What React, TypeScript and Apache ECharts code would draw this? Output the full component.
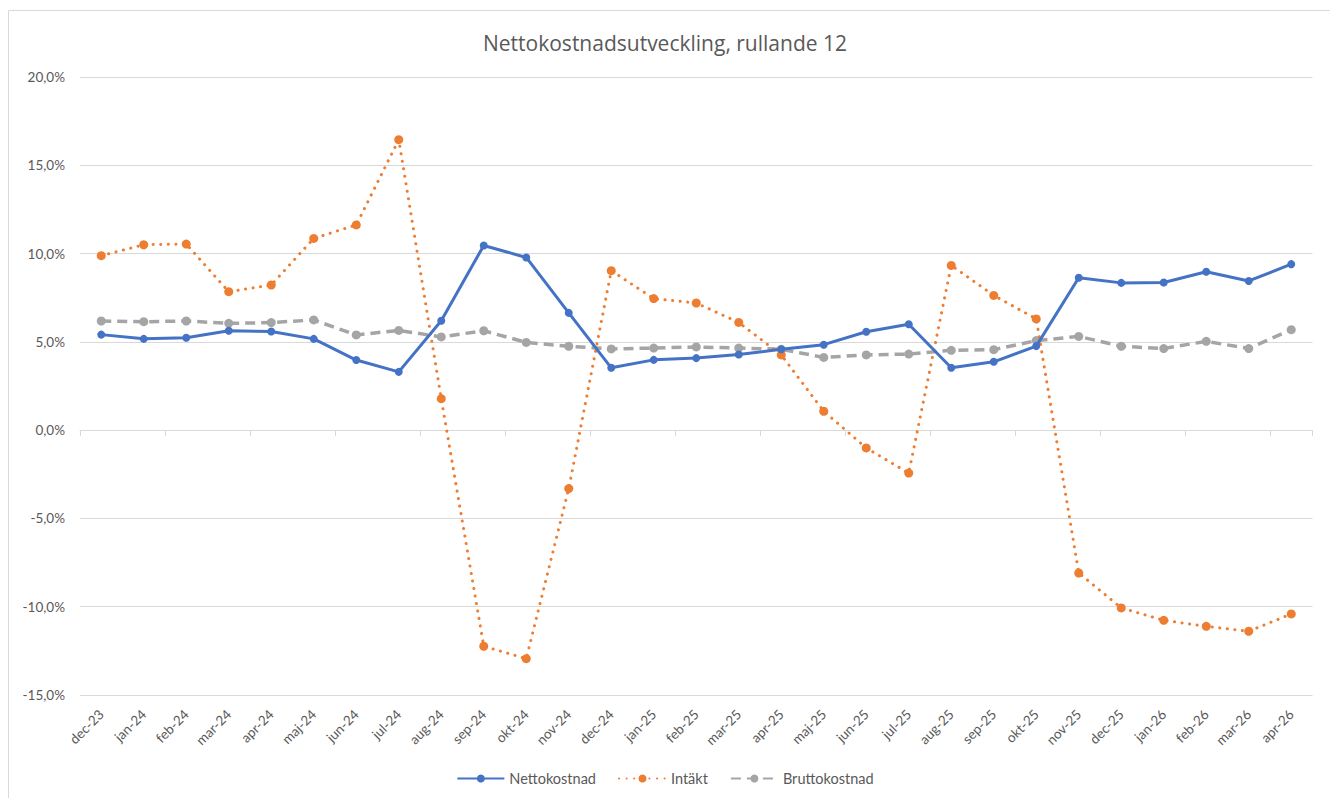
import React, { useEffect, useRef } from "react";
import * as echarts from "echarts";

const categories = [
  "dec-23", "jan-24", "feb-24", "mar-24", "apr-24", "maj-24", "jun-24", "jul-24",
  "aug-24", "sep-24", "okt-24", "nov-24", "dec-24", "jan-25", "feb-25", "mar-25",
  "apr-25", "maj-25", "jun-25", "jul-25", "aug-25", "sep-25", "okt-25", "nov-25",
  "dec-25", "jan-26", "feb-26", "mar-26", "apr-26",
];

const nettokostnad = [
  5.41, 5.17, 5.23, 5.63, 5.59, 5.17, 3.97, 3.3,
  6.2, 10.46, 9.78, 6.64, 3.53, 3.98, 4.08, 4.28,
  4.58, 4.84, 5.57, 6.0, 3.53, 3.87, 4.76, 8.63,
  8.34, 8.36, 8.97, 8.45, 9.4,
];

const intakt = [
  9.88, 10.5, 10.54, 7.84, 8.22, 10.86, 11.62, 16.45,
  1.78, -12.24, -12.94, -3.31, 9.03, 7.45, 7.2, 6.1,
  4.26, 1.07, -1.01, -2.43, 9.33, 7.63, 6.3, -8.09,
  -10.07, -10.77, -11.11, -11.39, -10.41,
];

const bruttokostnad = [
  6.18, 6.14, 6.18, 6.05, 6.09, 6.24, 5.39, 5.65,
  5.28, 5.63, 4.97, 4.75, 4.6, 4.65, 4.71, 4.65,
  4.58, 4.12, 4.26, 4.31, 4.52, 4.56, 5.07, 5.31,
  4.75, 4.62, 5.03, 4.62, 5.69,
];

const seriesNames = ["Nettokostnad", "Intäkt", "Bruttokostnad"];
const yTicks = { min: -15, max: 20, interval: 5 };

const FONT = "Lato, 'Open Sans', sans-serif";
const TITLE_FONT = "'Open Sans', Lato, sans-serif";
const TEXT = "#595959";
const GRID = "#d9d9d9";

export default function App() {
  const ref = useRef<HTMLDivElement>(null);

  useEffect(() => {
    if (!ref.current) return;
    const chart = echarts.init(ref.current, undefined, { renderer: "svg" });
    chart.setOption({
      animation: false,
      backgroundColor: "#ffffff",
      textStyle: { fontFamily: FONT },
      title: {
        text: "Nettokostnadsutveckling, rullande 12",
        left: "center",
        top: 27,
        textStyle: { fontFamily: TITLE_FONT, fontSize: 21, fontWeight: "normal", color: TEXT },
      },
      graphic: [
        {
          type: "rect",
          shape: { x: 8.5, y: 10.5, width: 1400, height: 900 },
          style: { fill: "none", stroke: GRID, lineWidth: 1 },
          silent: true,
        },
      ],
      legend: {
        bottom: 7,
        left: "center",
        itemWidth: 47,
        itemHeight: 10,
        itemGap: 22,
        data: seriesNames,
        textStyle: { fontFamily: FONT, fontSize: 14.5, color: TEXT },
      },
      grid: { left: 80, right: 17.5, top: 77, bottom: 103, containLabel: false },
      xAxis: [
        {
          type: "category",
          data: categories,
          position: "bottom",
          axisLine: { show: false, onZero: false },
          axisTick: { show: false },
          axisLabel: {
            rotate: 45,
            color: TEXT,
            fontSize: 13.5,
            fontFamily: FONT,
            margin: 17,
            interval: 0,
          },
          splitLine: { show: false },
        },
        {
          type: "category",
          data: categories,
          position: "bottom",
          axisLine: { show: true, onZero: true, onZeroAxisIndex: 0, lineStyle: { color: GRID, width: 1 } },
          axisTick: { show: true, length: 6, lineStyle: { color: GRID } },
          axisLabel: { show: false },
          splitLine: { show: false },
        },
      ],
      yAxis: {
        type: "value",
        min: yTicks.min,
        max: yTicks.max,
        interval: yTicks.interval,
        axisLine: { show: false },
        axisTick: { show: false },
        axisLabel: {
          color: TEXT,
          fontSize: 13.5,
          fontFamily: FONT,
          margin: 15,
          formatter: (v: number) => v.toFixed(1).replace(".", ",") + "%",
        },
        splitLine: { lineStyle: { color: GRID, width: 1 } },
      },
      series: [
        {
          name: seriesNames[0],
          type: "line",
          xAxisIndex: 0,
          data: nettokostnad,
          symbol: "circle",
          symbolSize: 8,
          itemStyle: { color: "#4472C4" },
          lineStyle: { color: "#4472C4", width: 3 },
          z: 4,
        },
        {
          name: seriesNames[1],
          type: "line",
          xAxisIndex: 0,
          data: intakt,
          symbol: "circle",
          symbolSize: 9,
          itemStyle: { color: "#ED7D31" },
          lineStyle: { color: "#ED7D31", width: 3, type: [0.1, 7.5], cap: "round" },
          z: 3,
        },
        {
          name: seriesNames[2],
          type: "line",
          xAxisIndex: 0,
          data: bruttokostnad,
          symbol: "circle",
          symbolSize: 9,
          itemStyle: { color: "#A5A5A5" },
          lineStyle: { color: "#A5A5A5", width: 3.5, type: [10, 6] },
          z: 2,
        },
      ],
    });
    return () => chart.dispose();
  }, []);

  return (
    <div
      ref={ref}
      style={{ position: "fixed", left: 0, top: 0, width: 1330, height: 798 }}
    />
  );
}
